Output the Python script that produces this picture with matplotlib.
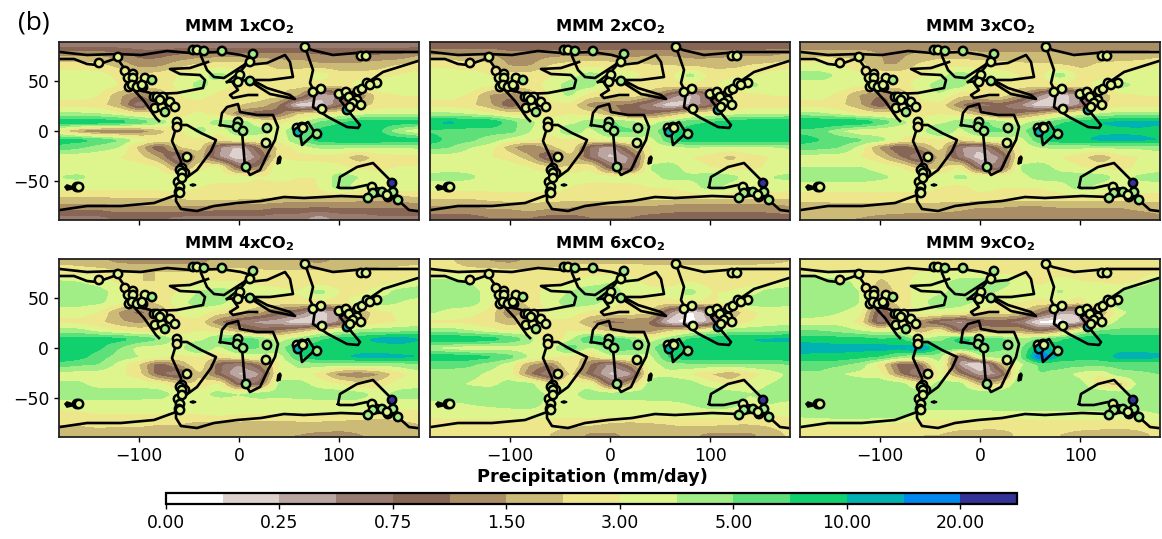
import numpy as np
import matplotlib
matplotlib.use("Agg")
import matplotlib.pyplot as plt
from matplotlib.colors import ListedColormap, BoundaryNorm
from matplotlib.cm import ScalarMappable

levels = [0, .125, .25, .5, .75, 1, 1.5, 2, 3, 4, 5, 7.5, 10, 15, 20, 30]
tick_levels = [0, .25, .75, 1.5, 3, 5, 10, 20]
colors = ['#ffffff', '#ddd1cd', '#bba5a0', '#9a7b70', '#886656', '#aa8f66', '#ccbb77', '#eee68a',
          '#ddf58c', '#a0ee85', '#5de079', '#11d16f', '#00b2b2', '#0088ee', '#333399']
titles = ['1x', '2x', '3x', '4x', '6x', '9x']
grid_lon = list(range(-180, 181, 20))
grid_lat = [86, 76, 66, 56, 46, 36, 26, 17, 9, 0, -9, -16, -26, -36, -46, -56, -66, -76, -86]

P1 = [
 [.6,.6,.6,.6,.6,.6,.6,.6,.6,.6,.6,.6,.6,.6,.6,.6,.6,.6,.6],
 [1.4,1.4,1.4,1.2,.9,.9,1.0,1.2,1.2,1.2,1.2,1.2,1.2,1.0,1.0,1.0,1.0,1.0,1.4],
 [2.5,2.5,2.2,1.8,1.3,1.3,1.8,2.2,2.5,2.5,2.2,1.8,1.8,1.6,1.6,1.6,1.8,2.0,2.5],
 [3.4,3.5,3.4,2.6,2.0,2.5,3.0,3.6,4.4,3.4,2.6,2.4,2.5,3.6,2.4,2.4,2.4,3.0,3.4],
 [3.6,3.7,3.6,3.0,2.4,2.5,3.2,4.4,3.5,2.6,2.0,2.0,2.4,2.4,2.2,3.5,4.2,3.6,3.4],
 [3.3,3.4,3.0,1.6,1.0,1.4,3.0,3.4,2.6,2.5,2.6,2.4,1.5,.3,.5,1.0,2.5,3.0,3.0],
 [2.6,2.6,2.4,1.6,.5,1.4,2.6,2.6,2.2,2.0,1.8,1.0,.1,.15,.7,1.6,2.4,2.6,2.6],
 [4.2,4.2,4.0,3.4,2.6,2.6,2.6,3.2,2.6,1.0,.7,.9,2.0,2.6,3.0,3.6,3.8,3.8,3.8],
 [9.5,9.5,9.5,9,7,4.5,3.5,3.4,4.5,5,3,2.6,3.5,5,7,8.5,9,9,8.5],
 [2.4,1.3,.9,.9,1.0,1.8,2.6,4.5,3,5,4.5,3.5,5,8.5,9.5,9.5,8,4,3],
 [8.5,8.5,7,5,3.5,2.6,2.5,2.6,2.5,3,3,3,5,8.5,9.5,9.5,9.5,9.5,8.5],
 [7,5.5,4.5,4.0,1.8,.7,2,2.6,.5,.2,1.0,2.2,3.4,4.2,4.2,4.2,4.0,4.0,4.2],
 [3.2,3.2,3.2,3.0,2.4,1.4,.4,1.8,.5,.1,.6,2.6,2.6,2.6,2.5,1.6,2.5,2.6,2.6],
 [3.4,3.4,3.4,3.4,3.4,3.0,1.0,2.6,3.4,.7,1.0,4.2,3.5,3.4,3.2,2.6,2.6,3.0,3.0],
 [4,4.2,3.6,3.5,3.5,3.5,3.6,3.4,3.5,3.5,3,3.4,3.0,3.0,4.5,4,3.4,4,4],
 [3.4,3.4,3.4,3.4,3.4,3.4,3.5,3,2.6,2.6,2.6,2.5,2.5,3,4.5,3.5,3.6,3.6,3.5],
 [2,2,2,2,2,2,2.2,2.5,2.5,2.4,2.2,2.0,2,2,2,1.8,1.8,1.8,2],
 [1.2,1.2,1.2,1.4,1.4,1.4,1.4,1.4,1.2,1.2,1.2,1.0,1.0,1.0,1.0,1.0,1.0,1.0,1.2],
 [.7,.7,.7,.8,.8,.8,.7,.7,.7,.7,.7,.6,.6,.4,.6,.6,.7,.7,.7],
]
P2 = [
 [.8,.8,.8,.8,.8,.8,.8,.8,.8,.8,.8,.8,.8,.8,.8,.8,.8,.8,.8],
 [1.4,1.6,1.6,1.5,1.2,1.2,1.3,1.4,1.4,1.3,1.3,1.4,1.4,1.3,1.3,1.4,1.4,1.4,1.6],
 [2.8,2.6,2.4,2.2,1.4,1.4,2.0,2.4,2.6,2.6,2.4,2.0,2.0,1.8,1.8,1.8,2.0,2.2,2.6],
 [3.5,3.5,3.4,3.0,2.4,2.4,2.8,3.5,4.5,3.6,3.4,2.6,2.6,4.5,2.6,2.6,2.6,3.4,3.5],
 [3.6,3.6,3.6,3.2,2.4,2.4,3.4,4.5,4.5,2.6,2.4,2.4,2.6,2.6,2.5,3.6,4.4,3.6,3.4],
 [3.4,3.4,2.8,1.4,1.2,1.6,3.4,4.2,2.4,2.5,2.6,1.8,.7,.2,.8,2.0,2.6,3.0,3.0],
 [2.6,2.6,2.2,1.6,.7,1.5,2.6,2.6,1.2,1.0,.9,.5,.12,.25,.7,1.8,2.6,2.6,2.6],
 [4.2,4.2,3.8,3.2,2.6,2.6,2.6,3.0,2.5,1.5,.8,.9,1.5,2.4,3.0,3.6,3.8,3.8,3.8],
 [10.5,11,10.5,10,6,4.2,3.4,3.6,4.5,5.5,4.4,3.4,4.5,6.5,7.5,8.5,9.5,9.5,10.5],
 [7,6.5,6.0,6,6,4.0,3.0,5,3.5,5.5,5.5,4.5,7,9,9.5,10,9.5,9,8],
 [9,6.5,5.5,4.5,3.4,3,2.6,2.8,2.6,3.4,3.4,3.4,7,9.5,9.5,9.5,9.5,9.5,9],
 [6,5,4,3.4,1.6,.9,1.8,3.0,.7,.25,1.4,3,3.6,4,3.8,3.8,3.8,3.8,4.2],
 [3.4,3.4,3.3,3.0,2.6,1.6,.5,2.0,.7,.2,.5,3,3.4,3.0,2.6,1.8,2.6,3,3],
 [3.5,3.6,3.5,3.5,3.5,3.0,2.0,2.0,3,.7,.5,4.2,4.5,3.4,3.0,2.4,2.6,3.2,3.6],
 [4.2,4.4,4.2,3.5,3.5,3.5,3.6,3.4,3.4,3.4,3.6,3.5,4.4,4.2,4.5,4.4,3.5,4.0,4.2],
 [3.5,3.4,3.4,3.4,3.4,3.4,3.4,3.0,2.6,2.6,2.6,3.0,3.0,3.4,4.5,3.6,3.5,3.6,3.5],
 [2.2,2.2,2.2,2.4,2.6,2.6,2.6,2.6,2.6,2.6,2.6,2.4,2.4,2.4,2.4,2.4,2.4,2.2,2.2],
 [1.4,1.4,1.4,1.6,1.6,1.8,1.6,1.5,1.4,1.4,1.4,1.4,1.2,1.2,1.2,1.2,1.2,1.2,1.4],
 [.9,.9,.9,1.0,1.0,1.0,.9,.9,1.0,1,1,.9,.9,.9,.9,.9,.9,.9,.9],
]
P3 = [
 [1.2,1.2,1.2,1.2,1.2,1.2,1.2,1.2,1.2,1.2,1.2,1.2,1.2,1.2,1.2,1.2,1.2,1.2,1.2],
 [1.8,1.8,1.8,1.8,1.5,1.4,1.6,1.8,1.8,1.6,1.6,1.6,1.6,1.6,1.5,1.6,1.6,1.6,1.8],
 [3.3,3.2,2.8,2.4,1.5,1.5,2.2,2.6,2.6,2.6,2.5,2.2,2.2,2.0,1.8,2.2,2.4,2.6,3.0],
 [4.4,4.4,3.8,3.2,2.6,2.5,2.8,3.6,4.6,3.6,3.5,3.0,2.6,4.6,2.6,2.6,2.8,3.5,3.5],
 [3.6,3.6,3.6,3.2,2.5,2.4,3.5,4.5,4.5,2.6,2.6,2.4,2.6,2.6,2.6,3.4,4.5,3.6,3.5],
 [3.4,3.4,2.6,1.4,1,1.4,3.2,4,2.2,2.4,2.6,1.5,.5,.12,.5,1.6,2.6,3.0,3.0],
 [2.6,2.6,2.2,1.6,.7,1.5,2.6,2.6,1,.6,.8,.5,.1,.15,.5,1.8,2.6,2.6,2.6],
 [4.4,4.2,3.6,2.8,2.6,2.6,2.6,3,2.5,1.5,.8,1,1.6,2.6,3.4,4,4.4,4.4,4.4],
 [10.5,10.5,10.5,10,7,4.4,3.4,3.6,4.5,6,4.4,3.4,4.5,7,8.5,10,11,11.5,11],
 [6.5,6,4,3,3.0,3,3.4,6,3.5,5.5,5.5,4.5,8,9,9.5,9.5,9.5,9.5,9],
 [9,7.5,6.5,5.5,4.5,3,2.6,2.8,2.0,3.0,3.4,3.4,7,9.5,9.5,11,11.5,11,10],
 [6,6,5,3.6,1.3,.7,1.3,2.6,.5,.3,1.2,3,4,4.2,4.2,4.2,4.2,4.2,4.5],
 [3.5,3.4,3.4,3.0,2.0,1.0,.4,1.8,.6,.15,.5,3,3.4,3.0,2.4,1.5,2.6,3,3.2],
 [4,4,4,4,3.6,3.0,1.6,1.8,3,.5,.6,4.2,4.5,3.6,3.0,2.6,2.6,3.2,3.6],
 [4.5,4.6,4.5,4.5,4.2,3.8,3.6,3.4,4.4,3.6,3.6,3.6,4.4,4.4,4.6,4.5,3.6,4.2,4.4],
 [3.5,3.4,3.4,3.4,3.4,3.4,3.4,3.0,2.6,3.4,3.0,3.0,3.0,3.4,4.5,3.6,3.5,3.6,3.5],
 [2.5,2.5,2.5,2.6,2.6,2.6,2.6,2.6,2.6,2.6,2.6,2.6,2.6,2.6,2.6,2.6,2.5,2.5,2.5],
 [1.7,1.7,1.8,1.8,1.8,1.8,1.8,1.7,1.6,1.5,1.5,1.4,1.4,1.5,1.5,1.5,1.5,1.6,1.7],
 [1.5,1.5,1.5,1.5,1.4,1.3,1.3,1.3,1.3,1.2,1.2,1.2,1.2,1.2,1.3,1.3,1.3,1.3,1.4],
]
P4 = [
 [1.9,1.8,1.6,1.4,1.3,1.3,1.3,1.4,1.6,1.6,1.6,1.6,1.5,1.4,1.6,1.7,1.7,1.8,1.9],
 [2.5,2.5,2.5,2.2,2,2,2,2,2.4,2.4,2.2,2.2,2.2,2.2,2,2.2,2.4,2.4,2.5],
 [4.2,4,3.6,2.8,2,2,2.5,3,3,3,2.6,2.6,2.4,2.4,2.4,2.6,2.6,3,3.6],
 [4.5,4.5,4.4,3.5,2.5,2.6,3,4,4.6,4,3.6,3.3,3,4.5,3,2.6,3.4,4.4,4.5],
 [4.4,4.4,4.2,3.5,1.8,2.2,3.5,4.6,4.6,3,2.6,2.6,2.6,2.6,2.6,3.5,4.6,4,3.6],
 [3.6,3.5,3.0,1.4,.9,1.4,3.2,3.6,2.4,2.0,1.6,.9,.7,.15,.5,1.5,2.6,3.2,3.2],
 [2.6,2.6,2.2,1.6,1.3,1.8,2.6,2.6,1.0,.6,.4,.3,.1,.15,.5,1.8,2.6,3,3],
 [4.5,4.4,3.6,3,2.6,2.6,2.6,3,2.6,1.6,.9,1.0,1.6,2.6,3.5,4.5,4.5,4.6,5],
 [8.5,8.5,8.5,8.5,7,5,3.4,3.5,5,7,5,3.4,4.5,7,8.5,9,12,13,10],
 [9,9,8,5,3.5,3.4,3.6,6,3.5,6,5,4.4,8.5,9,9,9,8.5,8.5,9],
 [9.5,8.5,6,4.5,4,3.4,2.6,2.8,2,3.0,3.4,3.4,7,9.5,9.5,11,12,11,10],
 [6.5,5.5,5,3.6,2,.8,1.5,3,.8,.5,1.0,3,4.4,4.5,4.5,4.5,4.5,4.5,5],
 [3.5,3.4,3.4,3.2,2.4,.8,.5,2.2,.8,.2,.4,3.4,3.4,2.6,1.2,1.0,1.4,2.6,3.4],
 [4.2,4.2,3.5,3.5,3.6,3.4,2.0,2.2,3.2,.7,.8,4.4,4.4,3.5,3.0,2.2,2.4,3.4,3.6],
 [4.5,4.6,4.6,4.6,4.5,4.5,3.6,3.6,4.4,4,4.5,4.4,4.5,4.6,4.6,4.4,3.6,4.4,4.5],
 [3.5,3.5,3.5,3.5,3.5,3.5,3.4,3.3,3.2,3.5,3.3,3.3,3.3,3.5,3.6,3.6,3.5,3.6,3.5],
 [2.6,2.8,3,3,3,3,3,3,3.2,3.0,3,3,3,3,3,3,2.6,2.6,2.6],
 [2,2,2.2,2.2,2.2,2,2,1.8,1.8,1.8,1.7,1.7,1.8,1.8,1.7,1.6,1.6,1.8,2],
 [1.8,1.9,1.8,1.7,1.7,1.7,1.7,1.7,1.7,1.6,1.6,1.5,1.5,1.4,1.4,1.5,1.5,1.6,1.8],
]
P5 = [
 [2.2,2.2,1.6,1.5,1.4,1.6,1.8,1.9,1.9,1.9,1.9,1.9,1.9,1.9,1.9,1.9,1.9,1.9,2.0],
 [2.6,2.6,2.6,2.5,2.4,2.2,2.2,2.4,2.6,2.6,2.6,2.4,2.4,2.4,2.4,2.4,2.4,2.6,2.6],
 [4.4,4.4,4,3,2.2,2.2,2.6,3,3.4,4,3.4,2.6,2.4,3,2.6,2.6,2.6,2.6,3.5],
 [4.6,4.6,4.5,3.5,2.2,2.6,3.4,4,4.8,4.5,3.6,3.4,3.4,4.5,3,3,3.4,4.5,4.5],
 [4.6,4.6,4.5,3.4,1.6,2.4,3.5,4.6,4.6,3.4,2.6,2.6,2.6,3,2.6,3.6,4.8,4.5,4.2],
 [4.2,3.6,3.4,2.6,1,1.8,3.4,3.6,2.6,2.6,2.6,2.2,.5,.08,.4,1.5,2.6,3.5,3.5],
 [2.6,2.8,2.6,2.2,1.6,2.2,2.8,2.6,1.5,.9,1,1,.12,.06,.3,2,3,3.4,3.4],
 [4.5,4.5,4,3.4,3,3,2.6,3,2.6,1.8,1,1.2,2.0,2.8,3.6,4.5,4.6,4.6,5],
 [10,10.5,10,9,7,4.5,1.8,3.6,8,7,5,3.4,4.5,8,9,10,10,10.5,11],
 [4,3.4,3,3.0,3.4,3.4,3.4,7,3.5,6.5,6,4.5,9,9.5,9.5,9.5,9.5,9.5,9],
 [9.5,9.5,9,8,6,3.8,3,2.6,1.8,3.4,3.5,3.5,8,9.5,9.5,9.5,9.5,9.5,9.5],
 [6,6,5.5,4.5,3.4,1.5,1,3.4,1.0,.4,1.3,3.4,4.5,4.8,4.8,4.8,4.8,4.8,5],
 [4.5,4.5,4.4,3.6,3.4,1.0,.4,2.4,.8,.2,.3,3.6,3.6,3.0,2.0,1.5,2.5,3.4,4.2],
 [4.5,4.5,3.8,3.6,4.4,4.4,2.4,3.2,3.6,.7,1.5,4.5,4.8,4.5,3.4,2.6,3.2,4,4.4],
 [4.8,4.8,4.8,4.7,4.7,4.6,3.8,3.6,4.6,4.5,4.6,4.6,4.8,4.8,5,4.6,4,4.5,4.6],
 [3.6,3.7,4,4.2,4.4,4.5,3.6,3.6,3.6,3.6,3.6,3.6,3.6,4,4.5,4.4,3.6,4,3.7],
 [3.2,3.4,3.4,3.4,3.4,3.4,3.4,3.4,3.4,3.4,3.4,3.4,3.4,3.4,3.4,3.4,3.0,3.0,3.2],
 [2.5,2.5,2.6,2.5,2.5,2.4,2.2,2.2,2.2,1.9,1.8,1.9,2.0,2.2,2.2,2,2,2.2,2.5],
 [2.4,2.4,2.4,2.4,2.4,2.2,2.0,1.8,1.4,1.4,1.6,1.8,1.8,1.6,1.4,1.4,1.4,1.7,2.2],
]
P6 = [
 [2.5,2.5,2.5,2.5,2.4,2.4,2.4,2.4,2.5,2.5,2.5,2.5,2.5,2.5,2.5,2.5,2.5,2.5,2.5],
 [2.6,2.6,2.6,2.6,2.5,2.6,3,3,3,3,2.6,2.6,2.6,2.6,2.6,2.6,2.6,2.6,2.6],
 [5,5,4.6,3.4,1.8,2.6,3.4,3.5,4.5,4.6,4.5,3.5,2.6,3.4,3,3,2.6,3,4.5],
 [5,5,4.8,4,1.5,2.4,3.4,3.6,4.6,4.6,3.8,3.6,3.4,4.2,3.4,3.4,4,5,5],
 [5,5,4.8,4,1.6,2.4,3.5,4.8,4.6,3.6,3,3,2.6,3,2.4,4,5,5,5],
 [4.8,4.4,4,3.4,.6,1.8,3.6,3.6,3.2,2.6,2.6,2.2,1.0,.3,.3,1.5,3.5,4.8,4.8],
 [3.5,3.5,3.5,2.6,.5,1.6,1.2,.6,.4,.7,.8,.6,.04,.04,.2,2.4,4.4,4.6,4.6],
 [5,5,4.6,4,3.4,3.6,1.5,3,.7,1.6,1.2,1.5,.8,1.5,3.4,5.5,5.5,5.5,5.5],
 [9,9,8.5,8.5,7.5,8,4,4.5,9,6,6,4,5,7,9,10,9,9,9],
 [13,12,12,12,13,11,18,7,6,7.5,5.5,4.6,12,8.5,9,8.5,9,9,9],
 [9,9,9,8,7,4.6,3.5,4.5,.5,3.6,4.4,4.6,22,9,8.5,8.5,12,12,11],
 [6,6,5.5,4.6,2.6,.8,.9,4.5,.3,.04,1.5,3.6,5.5,6,6,6,6,6,6],
 [4.8,4.8,4,3.6,3.4,1.0,.4,3.4,1.0,.3,.5,4.6,5,4.6,3.5,3,4.6,4.8,5],
 [5,5,4.8,4.6,4.8,4.6,2.5,4.6,4.6,1.5,2,5,5,5,4.5,2.2,1.6,4.6,4.8],
 [5,5,5,5,5,5,4.6,4.6,5,5,5,5,5,5,5,5,4.6,4.8,5],
 [4.8,4.8,4.8,4.8,4.8,4.8,4.6,4.6,4.6,4.6,4.7,4.7,4.7,4.7,4.7,4.8,4.6,4.6,4.6],
 [4.4,4.6,4.6,4.6,4.6,4.6,3.6,3.5,3.5,3.5,3.6,3.6,3.6,3.6,3.6,3.6,3.6,3.6,4],
 [3.0,3.0,3.2,3.2,3.0,2.6,2.6,2.6,2.5,2.4,2.4,2.2,2.6,2.6,2.6,2.4,2.4,2.6,3],
 [2.5,2.5,2.5,2.5,2.4,2.2,2.0,2.0,1.8,1.8,1.8,2.2,2.4,2.0,1.8,1.8,1.7,1.8,2.4],
]
panels = [P1, P2, P3, P4, P5, P6]

# palaeo-coastline traces (lon, lat)
arctic = [(-179,79),(-152,76),(-122,77),(-98,76),(-72,80),(-48,78),(-18,79),(2,76),(12,73),(5,66),(-15,53),(-25,54),(-32,61),(-38,75)]
north_west = [(-179,72),(-165,72),(-152,67),(-142,66),(-122,73),(-115,63),(-107,56),(-107,43),(-95,30),(-83,13),(-80,10)]
north_east = [(-107,43),(-85,37),(-62,38),(-36,43),(-34,51),(-39,56),(-59,57),(-69,62),(-49,63),(-31,69)]
south_am = [(-63,6),(-52,6),(-38,-2),(-23,-9),(-28,-20),(-42,-39),(-53,-47),(-58,-52),(-63,-64),(-63,-70),(-58,-78),(-42,-80),
            (-25,-75),(-2,-72),(22,-70),(45,-66),(65,-67),(102,-65),(128,-66),(148,-64),(160,-70),(170,-79),(178,-80)]
south_am_w = [(-63,6),(-63,3),(-67,-10),(-58,-30),(-60,-54),(-63,-64),(-85,-72),(-118,-75),(-152,-75),(-179,-79)]
africa = [(-19,6),(-17,18),(-12,24),(-1,27),(1,19),(18,16),(34,16),(39,4),(36,-9),(29,-22),(21,-39),(11,-44),(6,-36),(4,-12),(3,-1),(-6,4),(-19,6)]
europe_n = [(-12,49),(1,59),(11,71)]
europe_a = [(9,66),(28,68),(46,76),(51,69),(54,54),(31,51),(9,51),(-12,49)]
europe_b = [(9,51),(31,37),(56,32),(51,36),(28,43),(15,50)]
europe_c = [(-6,48),(-1,41),(-9,36),(-6,33),(9,36),(18,36)]
asia_n = [(66,84),(73,81),(94,76),(128,79),(179,79)]
asia = [(66,84),(74,61),(71,48),(76,38),(74,24),(89,14),(108,4),(119,3),(121,6),(111,18),(101,31),(128,48),(144,59),(179,70)]
india = [(61,-2),(64,6),(69,9),(76,-2),(63,-14),(61,-2)]
australia = [(99,-56),(101,-46),(118,-36),(134,-32),(151,-49),(159,-66),(148,-60),(128,-54),(114,-57),(101,-57),(99,-56)]
coast_lines = [arctic, north_west, north_east, south_am, south_am_w, africa, europe_n, europe_a, europe_b, europe_c, asia_n, asia, india, australia]
island_a = [(38,-33),(39,-27),(41,-25),(42,-27),(41,-32)]
island_b = [(-49,-54),(-46,-53),(-43,-54),(-46,-55)]
island_c = [(-172,-54),(-163,-57),(-172,-59),(-174,-56)]
islands = [island_a, island_b, island_c]

# proxy sites
site_lon = [-140,-121,-114,-106,-107,-111,-106,-110,-107,-102,-96,-94,-87,-97,-85,-82,-76,-84,-77,-74,-69,-64,-79,
            -62,-62,-52,-57,-59,-54,-57,-61,-59,-57,-60,-59,
            -162,-160,
            -46,-42,-35,-17,
            14,11,1,-1,11,
            -1,-2,4,28,27,7,
            66,122,127,
            74,82,83,
            100,107,110,119,123,128,138,118,114,108,111,122,131,
            58,63,59,64,78,
            133,134,129,143,149,154,153,159,148]
site_lat = [68,74,60,57,49,53,53,44,46,44,44,53,51,46,34,34,34,23,24,19,29,24,31,
            9,4,-26,-37,-39,-42,-42,-51,-56,-47,-61,-62,
            -56,-56,
            81,81,80,80,
            77,69,56,49,50,
            9,4,0,3,-12,-36,
            84,75,75,
            39,42,22,
            37,39,34,40,42,48,48,31,28,21,24,26,46,
            3,4,-1,3,-3,
            -56,-62,-67,-61,-66,-61,-52,-69,-64]
site_val = [2.5,3.5,2.5,3.5,12,3.5,3.5,3.5,3.5,3.5,3.5,3.5,4.5,3.5,4.5,3.5,3.5,3.5,3.5,4.5,3.5,3.5,3.5,
            3.5,2.5,3.5,3.5,4.5,3.5,3.5,3.5,3.5,3.5,3.5,3.5,
            3.5,3.5,
            4.5,3.5,4.5,4.5,
            4.5,3.5,3.5,3.5,4.5,
            4.5,4.5,4.5,4.5,3.5,4.5,
            3.5,3.5,3.5,
            3.5,3.5,3.5,
            3.5,3.5,3.5,3.5,3.5,3.5,3.5,3.5,3.5,12,3.5,3.5,3.5,
            3.5,4.5,12,3.5,4.5,
            3.5,4.5,4.5,4.5,3.5,4.5,25,4.5,3.5]

W, H = 1162, 539
fig = plt.figure(figsize=(W/100, H/100), dpi=100)
cmap = ListedColormap(colors)
norm = BoundaryNorm(levels, cmap.N)

def box(x0, y0, w, h):
    return [x0/W, 1-(y0+h)/H, w/W, h/H]

def field(rows):
    """Index-space field on a fine grid so contours follow the uneven level steps."""
    a = np.interp(np.array(rows, float), levels, np.arange(len(levels)))
    flon = np.arange(-180, 181, 2.0)
    flat = np.arange(-90, 91, 1.0)
    la = np.array(grid_lat[::-1], float)
    b = np.array([np.interp(flat, la, a[::-1, j]) for j in range(a.shape[1])]).T
    c = np.array([np.interp(flon, grid_lon, b[i]) for i in range(b.shape[0])])
    p = np.pad(c, 3, mode='edge')
    p = np.apply_along_axis(lambda v: np.convolve(v, np.ones(3)/3, 'same'), 0, p)
    p = np.apply_along_axis(lambda v: np.convolve(v, np.ones(5)/5, 'same'), 1, p)
    return flon, flat, p[3:-3, 3:-3]

xs = [59, 430, 800]
ys = [42, 259]
for n, rows in enumerate(panels):
    r, col = divmod(n, 3)
    ax = fig.add_axes(box(xs[col], ys[r], 360, 178))
    flon, flat, z = field(rows)
    ax.contourf(flon, flat, z, levels=np.arange(len(levels)), colors=colors, extend='neither')
    for seg in coast_lines:
        lo, la = zip(*seg)
        ax.plot(lo, la, color='k', lw=1.9, solid_joinstyle='round')
    for isl in islands:
        lo, la = zip(*isl)
        ax.fill(lo, la, color='k', lw=1.2)
    ax.scatter(site_lon, site_lat, c=site_val, cmap=cmap, norm=norm, s=36, edgecolors='k', linewidths=1.8, zorder=5)
    ax.set_xlim(-180, 180)
    ax.set_ylim(-89, 89)
    ax.set_xticks([-100, 0, 100])
    ax.set_yticks([-50, 0, 50])
    ax.tick_params(labelsize=12.4, length=3.6, width=1.0, pad=3.5,
                   labelbottom=(r == 1), left=(col == 0), labelleft=(col == 0))
    ax.set_title('MMM %sCO$_{\\mathbf{2}}$' % titles[n], fontsize=11.7, fontweight='bold', pad=7.5)
    for s in ax.spines.values():
        s.set_linewidth(1.3)
        s.set_color('#222222')

cax = fig.add_axes(box(166, 493, 851, 11))
cb = fig.colorbar(ScalarMappable(norm=norm, cmap=cmap), cax=cax, orientation='horizontal',
                  spacing='uniform', ticks=tick_levels)
cb.ax.set_xticklabels(['%.2f' % t for t in tick_levels])
cb.ax.tick_params(labelsize=12.4, length=3.6, width=1.0, pad=3.5)
cb.outline.set_linewidth(1.6)
cb.ax.minorticks_off()
fig.text(592/W, 1-477/H, 'Precipitation (mm/day)', ha='center', va='center', fontsize=12.8, fontweight='bold')
fig.text(18/W, 1-23/H, '(b)', ha='left', va='center', fontsize=19, family='Open Sans')
fig.savefig('out.png', dpi=100)
